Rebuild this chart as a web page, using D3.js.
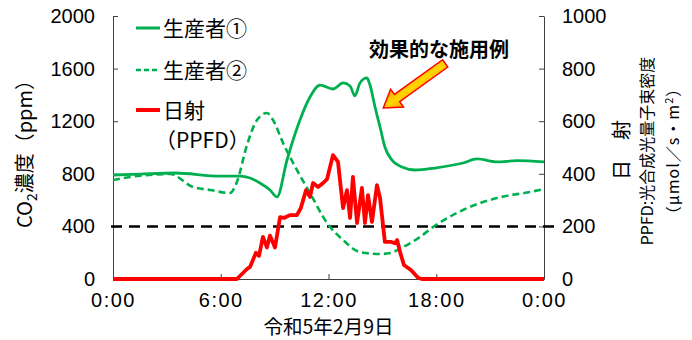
<!DOCTYPE html>
<html><head><meta charset="utf-8">
<script src="https://cdn.jsdelivr.net/npm/d3@7"></script>
<style>
body{margin:0;background:#fff;}
text{font-family:"Noto Sans CJK JP","Noto Sans",sans-serif;fill:#000;}
</style></head>
<body><svg id="c" width="692" height="340"></svg>
<script>
// ---- data ----
const hours1 = [0,1.5,3.45,5.96,7.07,7.63,8.18,8.74,9.13,9.69,10.41,10.97,11.53,12.25,12.81,13.2,13.47,13.75,14.14,14.31,14.59,14.87,15.14,15.53,16.09,16.82,17.93,19.49,20.27,21.38,22.5,24];
const co2Producer1 = [791,798,806,783,783,768,730,677,624,905,1209,1384,1475,1445,1491,1468,1392,1491,1529,1475,1308,1156,1004,905,852,829,844,882,913,890,900,890];
const hours2 = [0,0.95,3.17,4.45,5.4,6.51,6.9,7.46,8.02,8.57,8.91,9.47,10.24,10.97,11.92,12.81,13.75,14.87,15.42,16.15,17.09,17.82,19.49,21.38,23.22,24];
const co2Producer2 = [753,776,798,700,677,654,738,1019,1209,1262,1209,1034,829,654,426,297,205,190,198,243,319,395,525,616,662,684];
const hoursR = [0,6.9,7.46,7.63,7.96,8.13,8.35,8.57,8.74,9.02,9.3,9.52,9.85,10.24,10.46,10.75,10.97,11.14,11.42,11.7,11.92,12.25,12.53,12.81,13.03,13.2,13.36,13.59,13.86,14.03,14.2,14.42,14.7,14.87,15.14,15.5,15.7,15.82,16.0,16.2,16.59,17.0,17.2,24];
const ppfd = [0,0,38,46,100,88,160,120,165,120,235,232,243,243,270,338,312,365,350,365,380,471,445,270,338,232,388,213,346,213,319,217,357,308,141,141,136,148,99,53,34,4,0,0];
const xTicks = [0,6,12,18,24];
const xTickLabels = ["0:00","6:00","12:00","18:00","0:00"];
const leftTicks = [0,400,800,1200,1600,2000];
const rightTicks = [0,200,400,600,800,1000];
const threshold = 400;
const seriesNames = ["生産者①","生産者②","日射"];
const annotationText = "効果的な施用例";
const annotationPos = [18.15, 1700];
const arrowFrom = [18.5, 1640];
const arrowTo = [15.05, 1300];

// ---- chart ----
const svg = d3.select("#c");
const x = d3.scaleLinear().domain([0,24]).range([113,544]);
const yL = d3.scaleLinear().domain([0,2000]).range([279,16]);
const yR = d3.scaleLinear().domain([0,1000]).range([279,16]);
const green = "#00B050", red = "#FF0000";

function styleAxis(g){
  g.select(".domain").attr("stroke","#404040").attr("stroke-width",1);
  g.selectAll(".tick line").attr("stroke","#404040");
  g.selectAll(".tick text").attr("font-size",20).attr("fill","#000")
   .style("font-family",'"Liberation Sans","Noto Sans CJK JP",sans-serif');
}
svg.append("g").attr("transform",`translate(${x(0)},0)`)
  .call(d3.axisLeft(yL).tickValues(leftTicks).tickSize(-5).tickSizeOuter(0).tickPadding(18).tickFormat(d3.format("d")))
  .call(styleAxis);
svg.append("g").attr("transform",`translate(${x(24)},0)`)
  .call(d3.axisRight(yR).tickValues(rightTicks).tickSize(-5).tickSizeOuter(0).tickPadding(18).tickFormat(d3.format("d")))
  .call(styleAxis);
svg.append("g").attr("transform",`translate(0,${yL(0)})`)
  .call(d3.axisBottom(x).tickValues(xTicks).tickSize(-5).tickSizeOuter(0).tickPadding(14)
     .tickFormat((d,i)=>xTickLabels[i]))
  .call(styleAxis)
  .call(g=>g.selectAll(".tick text").attr("letter-spacing",1.5));

// threshold dashed line
svg.append("line").attr("x1",x(0)-2).attr("x2",x(24)+14)
  .attr("y1",yL(threshold)).attr("y2",yL(threshold))
  .attr("stroke","#000").attr("stroke-width",2.5).attr("stroke-dasharray","11,7");

// series
const l2 = d3.line().x((d,i)=>x(hours2[i])).y(d=>yL(d)).curve(d3.curveMonotoneX);
svg.append("path").attr("d",l2(co2Producer2)).attr("fill","none").attr("stroke",green)
  .attr("stroke-width",2.6).attr("stroke-dasharray","7,4");
const l1 = d3.line().x((d,i)=>x(hours1[i])).y(d=>yL(d)).curve(d3.curveMonotoneX);
svg.append("path").attr("d",l1(co2Producer1)).attr("fill","none").attr("stroke",green)
  .attr("stroke-width",2.8).attr("stroke-linejoin","round");
const lr = d3.line().x((d,i)=>x(hoursR[i])).y(d=>yR(d));
svg.append("path").attr("d",lr(ppfd)).attr("fill","none").attr("stroke",red)
  .attr("stroke-width",3.8).attr("stroke-linejoin","round");

// legend
const leg = svg.append("g");
const legY = [28,70,110];
leg.append("line").attr("x1",136).attr("x2",160).attr("y1",legY[0]).attr("y2",legY[0]).attr("stroke",green).attr("stroke-width",3);
leg.append("line").attr("x1",136).attr("x2",160).attr("y1",legY[1]).attr("y2",legY[1]).attr("stroke",green).attr("stroke-width",2.6).attr("stroke-dasharray","5,3");
leg.append("line").attr("x1",136).attr("x2",160).attr("y1",legY[2]).attr("y2",legY[2]).attr("stroke",red).attr("stroke-width",4);
seriesNames.forEach((n,i)=>{
  leg.append("text").attr("x",163).attr("y",legY[i]+8).attr("font-size",21).text(n);
});
leg.append("text").attr("x",155).attr("y",148).attr("font-size",21).text("（PPFD）");

// axis titles
const lt = svg.append("text").attr("transform","translate(32,149) rotate(-90)")
  .attr("text-anchor","middle").attr("font-size",20);
lt.append("tspan").text("CO");
lt.append("tspan").attr("font-size",14).attr("dy",5).text("2");
lt.append("tspan").attr("dy",-5).text("濃度（ppm）");

svg.append("text").attr("transform","translate(629,150) rotate(-90)")
  .attr("text-anchor","middle").attr("font-size",20).text("日　射");
svg.append("text").attr("transform","translate(653,151) rotate(-90)")
  .attr("text-anchor","middle").attr("font-size",16).text("PPFD:光合成光量子束密度");
const rt = svg.append("text").attr("transform","translate(679,151) rotate(-90)")
  .attr("text-anchor","middle").attr("font-size",16).attr("letter-spacing",1);
rt.append("tspan").text("（μmol／s・m");
rt.append("tspan").attr("font-size",11).attr("dy",-6).text("2");
rt.append("tspan").attr("dy",6).text("）");

// x title
svg.append("text").attr("x",x(12)).attr("y",334).attr("text-anchor","middle").attr("font-size",19.5).text("令和5年2月9日");

// annotation
svg.append("text").attr("x",x(annotationPos[0])).attr("y",yL(annotationPos[1])+2)
  .attr("text-anchor","middle").attr("font-size",20).attr("font-weight","bold").text(annotationText);
const ax0 = x(arrowFrom[0]), ay0 = yL(arrowFrom[1]), ax1 = x(arrowTo[0]), ay1 = yL(arrowTo[1]);
const L = Math.hypot(ax1-ax0, ay1-ay0), ang = Math.atan2(ay1-ay0, ax1-ax0)*180/Math.PI;
const w=4.5, hw=11, hl=17;
const pts = [[0,-w],[L-hl,-w],[L-hl,-hw],[L,0],[L-hl,hw],[L-hl,w],[0,w]];
const defs = svg.append("defs");
const grad = defs.append("linearGradient").attr("id","ag").attr("x1","0").attr("y1","0").attr("x2","0").attr("y2","1");
grad.append("stop").attr("offset","0%").attr("stop-color","#FFA500");
grad.append("stop").attr("offset","50%").attr("stop-color","#FFD700");
grad.append("stop").attr("offset","100%").attr("stop-color","#FFA500");
svg.append("polygon").attr("points",pts.map(p=>p.join(",")).join(" "))
  .attr("transform",`translate(${ax0},${ay0}) rotate(${ang})`)
  .attr("fill","url(#ag)").attr("stroke",red).attr("stroke-width",1.5).attr("stroke-linejoin","miter");
</script></body></html>
